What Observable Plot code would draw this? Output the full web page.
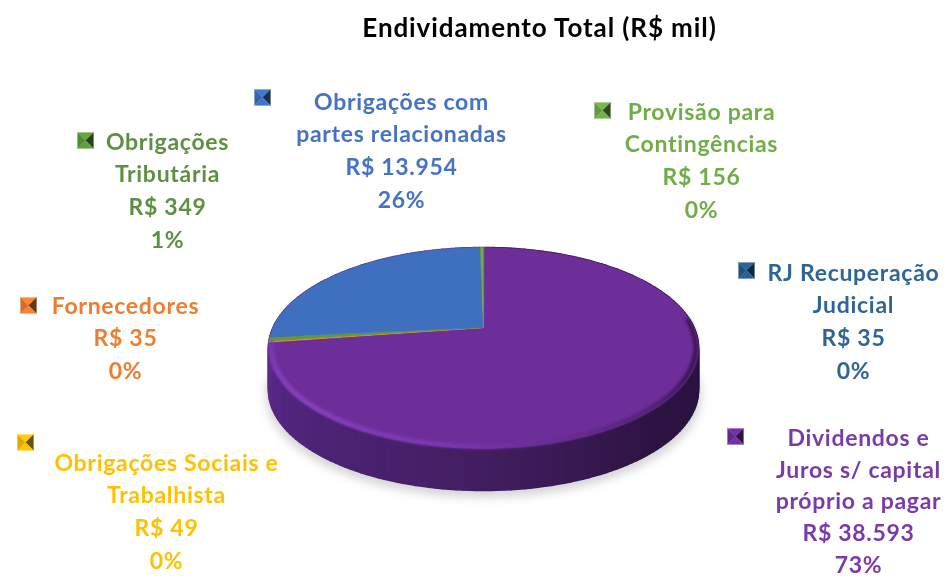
<!DOCTYPE html>
<html lang="pt-BR">
<head>
<meta charset="utf-8">
<script src="https://cdn.jsdelivr.net/npm/d3@7"></script>
<script src="https://cdn.jsdelivr.net/npm/@observablehq/plot@0.6"></script>
<style>
  html, body { margin: 0; padding: 0; background: #fff; }
  svg { display: block; }
</style>
</head>
<body>
<div id="chart"></div>
<script>
const chartTitle = "Endividamento Total (R$ mil)";
// Clockwise slice order, beginning just after twelve o'clock
const categories = [
  "RJ Recuperação\nJudicial",
  "Dividendos e\nJuros s/ capital\npróprio a pagar",
  "Obrigações Sociais e\nTrabalhista",
  "Fornecedores",
  "Obrigações\nTributária",
  "Obrigações com\npartes relacionadas",
  "Provisão para\nContingências"
];
const values = [35, 38593, 49, 35, 349, 13954, 156];
const percents = ["0%", "73%", "0%", "0%", "1%", "26%", "0%"];

const sliceColors = ["#255E91", "#6E2E9A", "#FFC000", "#ED7D31", "#5E9A3C", "#3F70BF", "#70AD47"];
const textColors = ["#2F6595", "#7A3AA8", "#FFC000", "#ED7D31", "#5F8F42", "#4472C4", "#70AD47"];
const labelX = [853, 858, 166, 125, 167, 401, 701];
const labelY = [273, 438, 463, 306, 142, 102, 112];
const labelStep = [32.6, 31.8, 32.6, 32.6, 32.6, 32.6, 32.6];
const keyX = [746, 735, 25, 28, 85, 262, 602];
const keyY = [270, 436, 442, 305, 140, 97, 110];

// Projection of the tilted disc
const cx = 483, apexY = 327, persp = 0.204, tilt = 29.6, radius = 210.5, depth = 42;
const project = (theta, r = 1, dy = 0) => {
  const u = r * Math.sin(theta), v = r * Math.cos(theta), w = 1 + persp * v;
  return {x: cx + radius * u / w, y: (apexY - tilt * v) / w + dy};
};
const TAU = Math.PI * 2;
const circleSteps = d3.range(0, 361, 1.5).map((d) => d * Math.PI / 180);

// Slices from the values
const arcs = d3.pie().sort(null).startAngle(0.0).endAngle(TAU)(values);
const slicePts = arcs.flatMap((a, i) => {
  const n = Math.max(2, Math.ceil((a.endAngle - a.startAngle) / 0.02));
  const rim = d3.range(n + 1).map((k) => project(a.startAngle + (a.endAngle - a.startAngle) * k / n));
  return [{x: cx, y: apexY}, ...rim].map((p) => ({...p, id: i, color: sliceColors[i]}));
});

// Cylinder wall shaded around the rim
const wallShade = d3.scaleLinear().domain([90, 135, 180, 225, 270]).range(["#2A1240", "#2C1342", "#421E60", "#4E2479", "#5E2C8E"]);
const wallPts = circleSteps.slice(0, -1).flatMap((t, i) => {
  const t2 = circleSteps[i + 1];
  const deg = t * 180 / Math.PI;
  const color = d3.color(wallShade(deg < 90 ? 90 : deg > 270 ? 270 : deg)).formatHex();
  return [project(t), project(t2), project(t2, 1, depth), project(t, 1, depth)].map((p) => ({...p, id: i, color}));
});

// Bevel around the lower rim of the top face
const bevelShade = d3.scaleLinear().domain([85, 115, 150, 190, 230, 262]).range(["#3A1A55", "#34174D", "#5A2780", "#7E3CB4", "#8A45C4", "#7A38B0"]);
const bevelSteps = circleSteps.filter((t) => t * 180 / Math.PI >= 85 && t * 180 / Math.PI <= 262);
const bevelSegs = bevelSteps.slice(0, -1).map((t, i) => {
  const a = project(t, 0.987), b = project(bevelSteps[i + 1], 0.987);
  return {x1: a.x, y1: a.y, x2: b.x, y2: b.y, color: d3.color(bevelShade(t * 180 / Math.PI)).formatHex()};
});

const shadowPts = circleSteps.map((t) => project(t, 1.012, depth + 5));

// Legend keys: four shaded triangles meeting at the middle
const keyHalf = 8;
const keyPts = keyX.flatMap((kx, i) => {
  const ky = keyY[i], h = keyHalf, c = d3.color(sliceColors[i]);
  const corners = [[-h, -h], [h, -h], [h, h], [-h, h]];
  const shades = [c.brighter(0.2), c.darker(2.4), c.brighter(0.1), c.darker(0.35)];
  return corners.flatMap((q, j) => {
    const r = corners[(j + 1) % 4], color = d3.color(shades[j]).formatHex();
    return [{x: kx, y: ky}, {x: kx + q[0], y: ky + q[1]}, {x: kx + r[0], y: ky + r[1]}]
      .map((p) => ({...p, id: `${i}-${j}`, color}));
  });
});

// Text rows from the data
const money = (v) => "R$ " + d3.format(",")(v).replace(/,/g, ".");
const rows = categories.flatMap((name, i) => {
  const lines = [...name.split("\n"), money(values[i]), percents[i]];
  return lines.map((text, k) => ({text, x: labelX[i], y: labelY[i] + k * labelStep[i], color: textColors[i]}));
});

const polygon = (data, extra = {}) => Plot.line(data, {
  x: "x", y: "y", z: "id", fill: "color", stroke: "color",
  strokeWidth: 0.5, curve: "linear-closed", ...extra
});

const chart = Plot.plot({
  width: 950, height: 579, margin: 0,
  x: {domain: [0, 950], range: [0, 950], axis: null},
  y: {domain: [0, 579], range: [0, 579], axis: null},
  color: {type: "identity"},
  style: {fontFamily: "Lato, sans-serif", background: "#fff", filter: "blur(0.45px)"},
  marks: [
    Plot.line(shadowPts, {x: "x", y: "y", fill: "#C9C9C9", stroke: "none", curve: "linear-closed", imageFilter: "blur(5px)", fillOpacity: 0.8}),
    polygon(wallPts, {strokeWidth: 1.6}),
    polygon(slicePts),
    Plot.link(bevelSegs, {x1: "x1", y1: "y1", x2: "x2", y2: "y2", stroke: "color", strokeWidth: 4.5, strokeLinecap: "round", imageFilter: "blur(1.6px)", strokeOpacity: 0.8}),
    polygon(keyPts, {strokeWidth: 0.2}),
    Plot.text(rows, {
      x: "x", y: "y", text: "text", fill: "color", textAnchor: "middle", lineAnchor: "middle",
      fontSize: 23, fontWeight: 700
    }),
    Plot.text([chartTitle], {
      x: 539, y: 28, text: (d) => d, fill: "#000", textAnchor: "middle", lineAnchor: "middle",
      fontSize: 26, fontWeight: 700
    })
  ]
});
d3.select(chart).selectAll("text").style("letter-spacing", function () {
  return this.textContent === chartTitle ? "0.9px" : "0.7px";
});
document.getElementById("chart").appendChild(chart);
</script>
</body>
</html>
